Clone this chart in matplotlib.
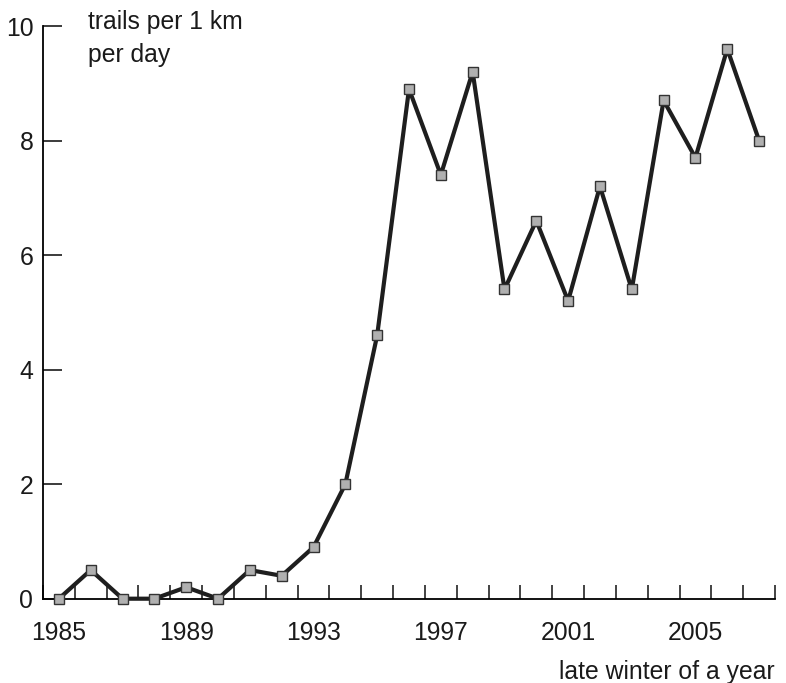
import numpy as np
import matplotlib.pyplot as plt
from matplotlib.ticker import FixedLocator

plt.rcParams['font.family'] = ['Liberation Sans', 'DejaVu Sans']

# trails per 1 km per day, late winter of each year
years = [1985, 1986, 1987, 1988, 1989, 1990, 1991, 1992, 1993, 1994, 1995, 1996,
         1997, 1998, 1999, 2000, 2001, 2002, 2003, 2004, 2005, 2006, 2007]
trails = [0.0, 0.5, 0.0, 0.0, 0.2, 0.0, 0.5, 0.4, 0.9, 2.0, 4.6, 8.9,
          7.4, 9.2, 5.4, 6.6, 5.2, 7.2, 5.4, 8.7, 7.7, 9.6, 8.0]
year_labels = [1985, 1989, 1993, 1997, 2001, 2005]
y_ticks = [0, 2, 4, 6, 8, 10]

fs = 17.8
fig = plt.figure(figsize=(7.86, 6.83), dpi=100)
ax = fig.add_axes([43 / 786, 1 - 598.7 / 683, 732 / 786, 572.7 / 683])

ax.plot(years, trails, color='#1e1e1e', lw=3.0, marker='s', markersize=7.5,
        markerfacecolor='#b0b0b0', markeredgecolor='#333333', markeredgewidth=1.0,
        clip_on=False, zorder=3)

ax.set_xlim(years[0] - 0.5, years[-1] + 0.5)
ax.set_ylim(0, 10)

ax.spines['top'].set_visible(False)
ax.spines['right'].set_visible(False)
ax.spines['left'].set_linewidth(1.3)
ax.spines['bottom'].set_linewidth(1.3)

ax.set_xticks(year_labels)
ax.set_xticklabels([str(y) for y in year_labels])
ax.xaxis.set_minor_locator(FixedLocator(np.arange(years[0] - 0.5, years[-1] + 1, 1.0)))
ax.tick_params(axis='x', which='major', length=0, pad=16, labelsize=fs, colors='#1a1a1a')
ax.tick_params(axis='x', which='minor', direction='in', length=10, width=1.2, color='#222222')

ax.set_yticks(y_ticks)
ax.tick_params(axis='y', direction='in', length=14, width=1.2, pad=7,
               labelsize=fs, colors='#1a1a1a')

fig.text(88 / 786, 1 - 10 / 683, 'trails per 1 km\nper day', ha='left', va='top',
         fontsize=fs, color='#1a1a1a', linespacing=1.45)
fig.text(775 / 786, 1 - 672 / 683, 'late winter of a year', ha='right', va='center',
         fontsize=fs, color='#1a1a1a')

fig.savefig('out.png', dpi=100)
